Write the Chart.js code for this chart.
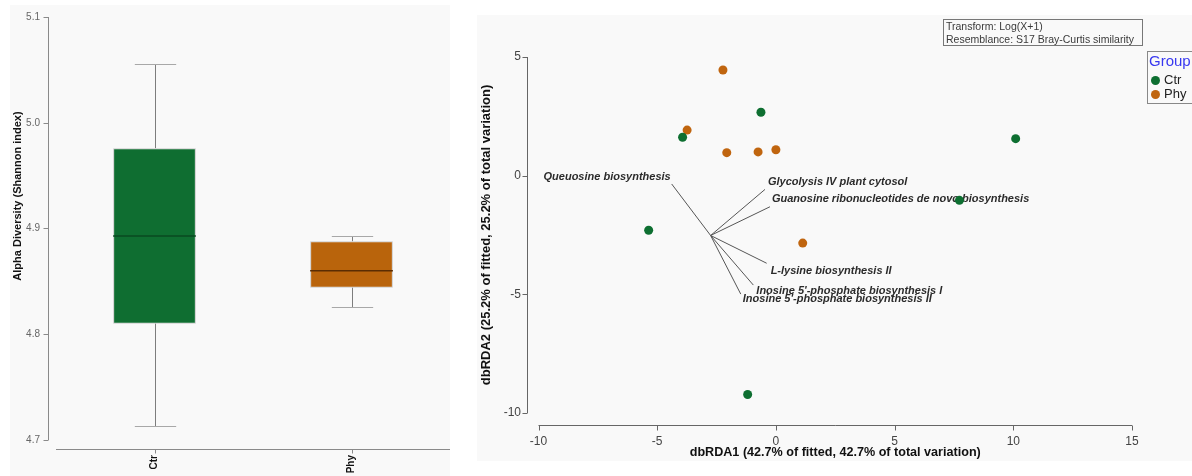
<!DOCTYPE html>
<html>
<head>
<meta charset="utf-8">
<script src="https://cdn.jsdelivr.net/npm/chart.js@4.4.1/dist/chart.umd.min.js"></script>
<style>
  html, body { margin:0; padding:0; background:#ffffff; width:1192px; height:476px; overflow:hidden;
    font-family:'Liberation Sans', Arial, sans-serif; }
  #leftPanel { position:absolute; left:10px; top:5px; width:440px; height:471px; background:#f9f9f9; }
  #rightPanel { position:absolute; left:477px; top:15px; width:715px; height:446px; background:#f9f9f9; }
  canvas { position:absolute; left:0; top:0; }
  #info { position:absolute; left:943px; top:19px; width:196px; height:25px; border:1px solid #777;
    font-size:10.5px; line-height:13px; color:#3a3a3a; padding:0 0 0 2px; box-sizing:content-box; white-space:nowrap; }
  #legend { position:absolute; left:1147px; top:51px; width:70px; height:51px; border:1px solid #888; }
  #legend .ttl { position:absolute; left:1px; top:0px; font-size:15px; line-height:17px; color:#3838f0; }
  #legend .row { position:absolute; left:3px; font-size:13px; line-height:15px; color:#222; }
  #legend .dot { display:inline-block; width:9px; height:9px; border-radius:50%; margin-right:4px; vertical-align:-1px; }
</style>
</head>
<body>
<div id="leftPanel"><canvas id="leftChart" width="440" height="471"></canvas></div>
<div id="rightPanel"><canvas id="rightChart" width="715" height="446"></canvas></div>
<div id="info">Transform: Log(X+1)<br>Resemblance: S17 Bray-Curtis similarity</div>
<div id="legend">
  <div class="ttl">Group</div>
  <div class="row" style="top:20px"><span class="dot" style="background:#0e6f31"></span>Ctr</div>
  <div class="row" style="top:34px"><span class="dot" style="background:#c0650f"></span>Phy</div>
</div>
<script>
// ---------- Data: box plot (Alpha diversity) ----------
const groups = ['Ctr', 'Phy'];
const boxMin    = [4.713, 4.826];
const boxQ1     = [4.810, 4.844];
const boxMedian = [4.893, 4.860];
const boxQ3     = [4.976, 4.888];
const boxMax    = [5.056, 4.893];
const leftYTicks = [4.7, 4.8, 4.9, 5.0, 5.1];
const leftYTitle = 'Alpha Diversity (Shannon index)';

// ---------- Data: dbRDA ordination ----------
const ctrX = [-0.63, -3.93, 10.10, -5.36, 7.73, -1.19];
const ctrY = [2.67, 1.62, 1.56, -2.30, -1.04, -9.22];
const phyX = [-2.23, -3.74, -2.07, -0.75, 0.00, 1.13];
const phyY = [4.45, 1.92, 0.97, 1.00, 1.09, -2.84];
const vectorOriginX = -2.75;
const vectorOriginY = -2.52;
const vectorNames = [
  'Queuosine biosynthesis',
  'Glycolysis IV plant cytosol',
  'Guanosine ribonucleotides de novo biosynthesis',
  'L-lysine biosynthesis II',
  "Inosine 5'-phosphate biosynthesis I",
  "Inosine 5'-phosphate biosynthesis II"
];
const vectorX = [-4.39, -0.46, -0.25, -0.39, -0.95, -1.48];
const vectorY = [-0.35, -0.58, -1.31, -3.69, -4.61, -4.99];
const rightXTicks = [-10, -5, 0, 5, 10, 15];
const rightYTicks = [-10, -5, 0, 5];
const rightXTitle = 'dbRDA1 (42.7% of fitted, 42.7% of total variation)';
const rightYTitle = 'dbRDA2 (25.2% of fitted, 25.2% of total variation)';

// ---------- Styles ----------
const FONT = "'Liberation Sans', Arial, sans-serif";
const boxColors = ['#0f6e31', '#b9640c'];
const medianColors = ['#0a4a20', '#5a2c02'];
const groupColors = { Ctr: '#0e6f31', Phy: '#c0650f' };
const labelPlacement = [
  { align: 'right', dx: -1, dy: -7 },
  { align: 'left',  dx: 3,  dy: -7 },
  { align: 'left',  dx: 2,  dy: -8 },
  { align: 'left',  dx: 4,  dy: 8 },
  { align: 'left',  dx: 3,  dy: 6 },
  { align: 'left',  dx: 2,  dy: 5 }
];

function seg(ctx, x1, y1, x2, y2) {
  ctx.beginPath(); ctx.moveTo(x1, y1); ctx.lineTo(x2, y2); ctx.stroke();
}
const r5 = v => Math.round(v) + 0.5;

// ---------- Left chart: box plot ----------
const leftDeco = {
  id: 'leftDeco',
  afterDatasetsDraw(chart) {
    const { ctx, chartArea: a, scales: { x, y } } = chart;
    const meta = chart.getDatasetMeta(0);
    ctx.save();
    groups.forEach((g, i) => {
      const bar = meta.data[i];
      const cx = r5(bar.x), hw = bar.width / 2, cap = bar.width / 4;
      ctx.strokeStyle = '#7d7d7d'; ctx.lineWidth = 1;
      seg(ctx, cx, y.getPixelForValue(boxQ3[i]), cx, r5(y.getPixelForValue(boxMax[i])));
      seg(ctx, cx, y.getPixelForValue(boxQ1[i]), cx, r5(y.getPixelForValue(boxMin[i])));
      ctx.strokeStyle = '#a8a8a8';
      seg(ctx, cx - cap, r5(y.getPixelForValue(boxMax[i])), cx + cap, r5(y.getPixelForValue(boxMax[i])));
      seg(ctx, cx - cap, r5(y.getPixelForValue(boxMin[i])), cx + cap, r5(y.getPixelForValue(boxMin[i])));
      ctx.strokeStyle = medianColors[i]; ctx.lineWidth = 1.5;
      seg(ctx, bar.x - hw, y.getPixelForValue(boxMedian[i]), bar.x + hw, y.getPixelForValue(boxMedian[i]));
    });
    // axes
    ctx.strokeStyle = '#8a8a8a'; ctx.lineWidth = 1;
    const ax = r5(a.left - 8);
    seg(ctx, ax, y.getPixelForValue(leftYTicks[leftYTicks.length - 1]), ax, y.getPixelForValue(leftYTicks[0]));
    leftYTicks.forEach(v => { const py = r5(y.getPixelForValue(v)); seg(ctx, ax - 5, py, ax, py); });
    const ay = r5(a.bottom + 9);
    seg(ctx, a.left, ay, a.right, ay);
    groups.forEach((g, i) => { const px = r5(x.getPixelForValue(i)); seg(ctx, px, ay, px, ay + 4); });
    // y title
    ctx.fillStyle = '#111';
    ctx.font = 'bold 11px ' + FONT;
    ctx.textAlign = 'center'; ctx.textBaseline = 'middle';
    ctx.translate(8, 191); ctx.rotate(-Math.PI / 2);
    ctx.fillText(leftYTitle, 0, 0);
    ctx.restore();
  }
};

new Chart(document.getElementById('leftChart'), {
  type: 'bar',
  data: {
    labels: groups,
    datasets: [{
      data: groups.map((g, i) => [boxQ1[i], boxQ3[i]]),
      backgroundColor: boxColors,
      borderColor: '#c9c9c9',
      borderWidth: 1,
      borderSkipped: false,
      barPercentage: 0.42,
      categoryPercentage: 1
    }]
  },
  options: {
    responsive: false, animation: false, events: [],
    layout: { padding: { top: 12, right: 0, bottom: 0, left: 0 } },
    plugins: { legend: { display: false }, tooltip: { enabled: false } },
    scales: {
      x: {
        grid: { display: false, drawTicks: false }, border: { display: false },
        ticks: { minRotation: 90, maxRotation: 90, padding: 15, color: '#111',
          font: { size: 10, weight: 'bold', family: FONT } },
        afterFit(s) { s.height = 36; }
      },
      y: {
        min: 4.7, max: 5.1,
        grid: { display: false, drawTicks: false }, border: { display: false },
        afterBuildTicks(s) { s.ticks = leftYTicks.map(v => ({ value: v })); },
        ticks: { padding: 16, color: '#666', font: { size: 10, family: FONT },
          callback: v => Number(v).toFixed(1) },
        afterFit(s) { s.width = 46; s.paddingTop = 6; s.paddingBottom = 6; }
      }
    }
  },
  plugins: [leftDeco]
});

// ---------- Right chart: dbRDA ----------
const rightDeco = {
  id: 'rightDeco',
  beforeDatasetsDraw(chart) {
    const { ctx, chartArea: a, scales: { x, y } } = chart;
    ctx.save();
    ctx.strokeStyle = '#666'; ctx.lineWidth = 1;
    const ax = r5(a.left - 11.5);
    seg(ctx, ax, y.getPixelForValue(5), ax, y.getPixelForValue(-10));
    rightYTicks.forEach(v => { const py = r5(y.getPixelForValue(v)); seg(ctx, ax - 5, py, ax, py); });
    const ay = r5(a.bottom + 12);
    seg(ctx, x.getPixelForValue(-10), ay, x.getPixelForValue(15), ay);
    rightXTicks.forEach(v => { const px = r5(x.getPixelForValue(v)); seg(ctx, px, ay, px, ay + 5); });
    // vector labels
    ctx.fillStyle = '#2b2b2b';
    ctx.font = 'italic bold 11px ' + FONT;
    ctx.textBaseline = 'middle';
    vectorNames.forEach((n, i) => {
      const p = labelPlacement[i];
      ctx.textAlign = p.align;
      ctx.fillText(n, x.getPixelForValue(vectorX[i]) + p.dx, y.getPixelForValue(vectorY[i]) + p.dy);
    });
    ctx.restore();
  }
};

const pts = (xs, ys) => xs.map((v, i) => ({ x: v, y: ys[i] }));

new Chart(document.getElementById('rightChart'), {
  type: 'scatter',
  data: {
    datasets: [
      { label: 'Ctr', data: pts(ctrX, ctrY), backgroundColor: groupColors.Ctr, borderColor: groupColors.Ctr,
        pointRadius: 4.5, borderWidth: 0, order: 0 },
      { label: 'Phy', data: pts(phyX, phyY), backgroundColor: groupColors.Phy, borderColor: groupColors.Phy,
        pointRadius: 4.5, borderWidth: 0, order: 0 },
      ...vectorNames.map((n, i) => ({
        label: n,
        data: [{ x: vectorOriginX, y: vectorOriginY }, { x: vectorX[i], y: vectorY[i] }],
        showLine: true, borderColor: '#555', borderWidth: 1, pointRadius: 0, order: 1
      }))
    ]
  },
  options: {
    responsive: false, animation: false, events: [],
    layout: { padding: { top: 42, right: 60, bottom: 0, left: 0 } },
    plugins: { legend: { display: false }, tooltip: { enabled: false } },
    scales: {
      x: {
        type: 'linear', min: -10, max: 15,
        grid: { display: false, drawTicks: false }, border: { display: false },
        afterBuildTicks(s) { s.ticks = rightXTicks.map(v => ({ value: v })); },
        ticks: { padding: 21, color: '#444', font: { size: 12, family: FONT } },
        title: { display: true, text: rightXTitle, color: '#111',
          font: { size: 12.6, weight: 'bold', family: FONT }, padding: { top: 0, bottom: 1 } },
        afterFit(s) { s.height = 48; }
      },
      y: {
        type: 'linear', min: -10, max: 5,
        grid: { display: false, drawTicks: false }, border: { display: false },
        afterBuildTicks(s) { s.ticks = rightYTicks.map(v => ({ value: v })); },
        ticks: { padding: 17.5, color: '#444', font: { size: 12, family: FONT } },
        title: { display: true, text: rightYTitle, color: '#111',
          font: { size: 13, weight: 'bold', family: FONT }, padding: { top: 2, bottom: 0 } },
        afterFit(s) { s.width = 61.5; }
      }
    }
  },
  plugins: [rightDeco]
});
</script>
</body>
</html>
